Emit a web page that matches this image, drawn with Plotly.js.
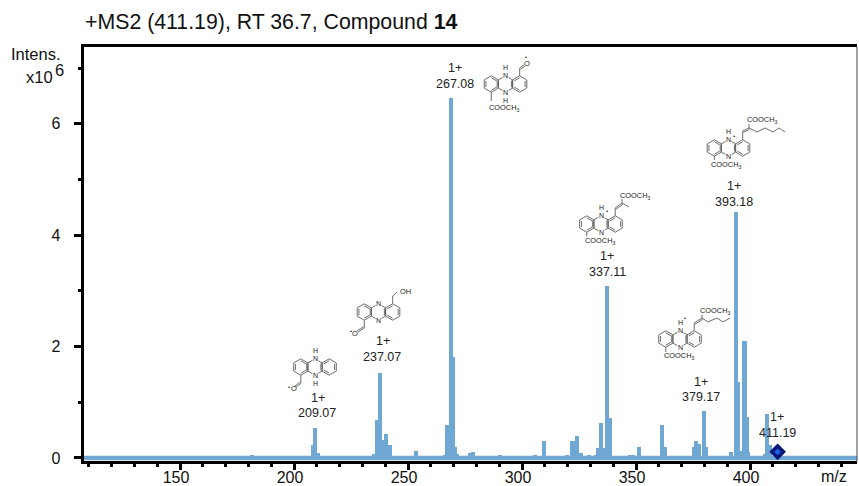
<!DOCTYPE html>
<html>
<head>
<meta charset="utf-8">
<script src="https://cdn.plot.ly/plotly-3.0.1.min.js"></script>
<style>html,body{margin:0;padding:0;background:#fff}</style>
</head>
<body>
<div id="chart" style="width:859px;height:486px"></div>
<script>
// m/z and intensity (x10^6)
const mz = [181.6,208.2,209.2,210.5,235.1,236.3,237.7,238.6,240.4,241.9,253.5,266.2,267.2,268.7,269.6,270.6,271.5,277.2,278.4,290.4,293.9,295.6,305.7,309.6,313.2,319.7,322.2,324,325.7,329.4,332.5,333.3,334.6,335.8,337.3,338.3,347.4,348.7,351.3,361.3,362.7,375.4,376.3,377.6,379.8,380.7,391.7,393.8,394.6,396.1,397.5,398.4,399.1,406.6,407.3,408.8];
const intensity = [0.05,0.23,0.54,0.09,0.08,0.68,1.53,0.32,0.43,0.23,0.12,0.06,0.59,6.46,1.81,0.2,0.07,0.09,0.11,0.05,0.03,0.03,0.05,0.31,0.03,0.05,0.31,0.39,0.09,0.06,0.06,0.18,0.63,0.18,3.08,0.72,0.05,0.05,0.2,0.59,0.2,0.2,0.31,0.25,0.85,0.2,0.11,4.42,1.36,0.12,2.1,0.74,0.1,0.07,0.79,0.23];
const baselineMz = [107.9, 446.9];
const baselineIntensity = [0, 0];
const precursorMz = [412.1];
const precursorIntensity = [0.11];
const xTicks = [150,200,250,300,350,400];
const yTicks = [0,2,4,6];
const charge = '1+';
const peakLabels = ['209.07','237.07','267.08','337.11','379.17','393.18','411.19'];

const W=859,H=486,L=84,R=857,T=47,B=461;
const px=x=>(x-L)/(R-L), py=y=>(B-y)/(B-T);
const shapes=[], annotations=[];
const INK='#5c5c5c';
const FONT='"Liberation Sans",Arial,sans-serif';
function seg(pts,w){
  const d=pts.map((p,i)=>(i?'L':'M')+px(p[0]).toFixed(5)+','+py(p[1]).toFixed(5)).join(' ');
  shapes.push({type:'path',path:d,xref:'paper',yref:'paper',line:{color:INK,width:w||0.9},layer:'above'});
}
function txt(x,y,text,size,opt){
  annotations.push(Object.assign({xref:'paper',yref:'paper',x:px(x),y:py(y),text:text,showarrow:false,
    xanchor:'center',yanchor:'middle',borderpad:0,
    font:{family:FONT,size:size,color:'#222'}},opt||{}));
}
const S=8.2,RW=S*Math.sqrt(3);
function hex(cx,cy,inner){
  const v=[];
  for(let i=0;i<6;i++){const a=(-90+60*i)*Math.PI/180;v.push([cx+S*Math.cos(a),cy+S*Math.sin(a)]);}
  seg(v.concat([v[0]]));
  inner.forEach(i=>{
    const a=v[i],b=v[(i+1)%6],k=0.76;
    const f=(p)=>[cx+(p[0]-cx)*k,cy+(p[1]-cy)*k];
    seg([f(a),f(b)]);
  });
}
function rings(cx,cy,tH,bH){
  hex(cx-RW,cy,[0,2,4]);
  hex(cx,cy,[]);
  hex(cx+RW,cy,[1,3,5]);
  seg([[cx-RW/2-1.2,cy-S*0.42],[cx-RW/2-1.2,cy+S*0.42]]);
  seg([[cx+RW/2-1.2,cy-S*0.42],[cx+RW/2-1.2,cy+S*0.42]]);
  txt(cx,cy-S,'N',7,{bgcolor:'#fff'});
  txt(cx,cy+S,'N',7,{bgcolor:'#fff'});
  if(tH)txt(cx,cy-S-8,'H',7);
  if(bH)txt(cx,cy+S+8,'H',7);
}
function ester(x,y){txt(x,y,'COOCH<sub>3</sub>',7.4);}
function dbl(a,b){
  seg([a,b]);
  const dx=b[0]-a[0],dy=b[1]-a[1],l=Math.hypot(dx,dy),ox=-dy/l*1.5,oy=dx/l*1.5;
  seg([[a[0]+ox,a[1]+oy],[b[0]+ox,b[1]+oy]]);
}
function dot(x,y){txt(x,y,'•',6);}

// 267.08
rings(505.5,84,true,true);
seg([[491.3,92.2],[491.3,101]]);ester(504,108);
seg([[519.7,75.8],[519.7,68]]);dbl([519.7,68],[524,65]);txt(526.5,64,'O',7.5);dot(526,57);
// 393.18
rings(728.5,148,true,false);dot(733.5,136);
seg([[742.7,139.8],[742.7,131]]);dbl([742.7,131],[749,128]);seg([[749,128],[749,124]]);
seg([[749,128],[757,132],[765,128],[773,132],[779,128],[785,132]]);
txt(762,120,'COOCH<sub>3</sub>',7.4);
seg([[714.3,156.2],[714.3,160]]);ester(726,164.5);
// 337.11
rings(601,224,true,false);dot(606.5,211);
seg([[615.2,215.8],[615.2,208]]);dbl([615.2,208],[622,203]);seg([[622,203],[622,199]]);seg([[622,203],[629,207]]);
txt(635,196,'COOCH<sub>3</sub>',7.4);
seg([[586.8,232.2],[586.8,236.5]]);ester(600,240.5);
// 379.17
rings(680,339,true,false);dot(685,318);
seg([[694.2,330.8],[694.2,323]]);dbl([694.2,323],[702,318]);seg([[702,318],[702,314.5]]);
seg([[702,318],[708,322],[717,318],[723,322],[730,318]]);
txt(715,311,'COOCH<sub>3</sub>',7.4);
seg([[665.8,347.2],[665.8,352]]);ester(679,356);
// 237.07
rings(378.5,312,false,false);
seg([[392.7,303.8],[392.7,296],[397,292]]);txt(405,291,'OH',7.5);
seg([[364.3,320.2],[364.3,328]]);dbl([364.3,328],[358,332]);txt(355,333,'O',7.5);dot(350.5,331);
// 209.07
rings(315,367,true,true);
seg([[300.8,375.2],[300.8,383.5]]);dbl([300.8,383.5],[296,387]);txt(293.5,388.5,'O',7.5);dot(288.5,387);

// peak labels
const labelPos=[[318,398,317,413],[383,341,382,357],[455,68,455,84],[607,256,607,272],[701,382,701,397],[734,186,734,202],[777,417,777,433]];
peakLabels.forEach((t,i)=>{const p=labelPos[i];
  txt(p[0],p[1],charge,12.5);txt(p[2],p[3],t,12.5);});

// headers
const head=s=>({font:{family:FONT,size:s,color:'#111'}});
txt(84,22,'+MS2 (411.19), RT 36.7, Compound <b>14</b>',21.3,Object.assign({xanchor:'left'},head(21.3)));
txt(62,54,'Intens.',16.5,Object.assign({xanchor:'right'},head(16.5)));
txt(53.5,77,'x10',16.5,Object.assign({xanchor:'right'},head(16.5)));
txt(54,70,'6',16.5,Object.assign({xanchor:'left'},head(16.5)));
txt(834,476,'m/z',16,head(16));

shapes.push({type:'line',xref:'paper',yref:'paper',x0:1,x1:1,y0:0,y1:1,line:{color:'#444',width:1},layer:'above'});

const BLUE='#6fa8d2';
const traces=[
 {type:'scatter',mode:'lines',x:baselineMz,y:baselineIntensity,line:{color:BLUE,width:4.5},hoverinfo:'skip'},
 {type:'bar',x:mz,y:intensity,width:1.9,marker:{color:BLUE,line:{width:0}}},
 {type:'scatter',mode:'markers',x:precursorMz,y:precursorIntensity,
  marker:{symbol:'diamond',size:9,color:'#1d5fd8',line:{color:'#08157a',width:3.5}}}
];
const layout={
 width:W,height:H,showlegend:false,autosize:false,bargap:0,barmode:'overlay',
 paper_bgcolor:'#fff',plot_bgcolor:'#fff',
 margin:{l:L,r:W-R,t:T,b:H-B,pad:0},
 font:{family:FONT,size:16,color:'#111'},
 xaxis:{range:[107.9,446.9],tickvals:xTicks,ticks:'outside',ticklen:6,tickwidth:3,tickcolor:'#000',
  showline:true,linecolor:'#000',linewidth:3,mirror:true,showgrid:false,zeroline:false,
  ticklabelshift:-4,ticklabelstandoff:-6,
  minor:{dtick:10,ticks:'outside',ticklen:3,tickwidth:3,tickcolor:'#000',showgrid:false},
  tickfont:{size:16,color:'#111'}},
 yaxis:{range:[-0.054,7.38],tickvals:yTicks,ticks:'outside',ticklen:7,tickwidth:3,tickcolor:'#000',
  showline:true,linecolor:'#000',linewidth:3.5,showgrid:false,zeroline:false,ticklabelstandoff:10,
  minor:{dtick:1,ticks:'outside',ticklen:3,tickwidth:3,tickcolor:'#000',showgrid:false},
  tickfont:{size:16,color:'#111'}},
 shapes:shapes,annotations:annotations
};
Plotly.newPlot('chart',traces,layout,{displayModeBar:false,staticPlot:true});
</script>
</body>
</html>
